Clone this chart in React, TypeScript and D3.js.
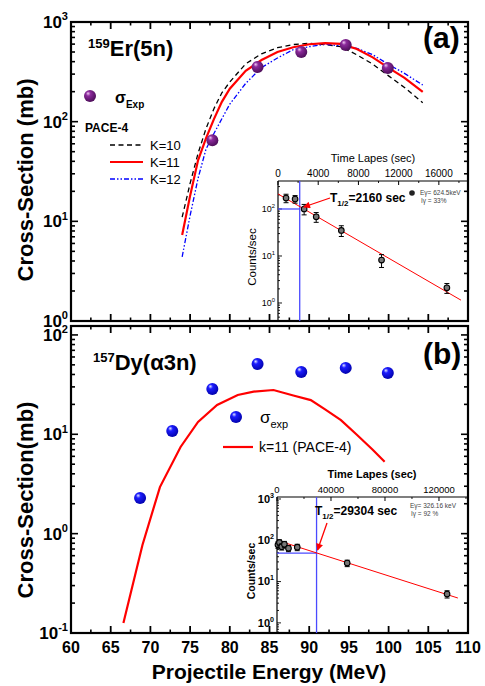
import React, { useEffect, useRef } from "react";
import * as d3 from "d3";

// x axis (projectile energy, MeV)
const energyTicks = [60, 65, 70, 75, 80, 85, 90, 95, 100, 105, 110];

// panel (a) 159Er(5n)
const expEnergyA = [77.8, 83.5, 89.0, 94.6, 99.9];
const expSigmaA = [65, 354, 500, 588, 346];
const paceEnergyA = [74, 75, 76, 77, 78, 79, 80, 82, 84, 86, 88, 90, 92, 94, 96, 98, 100, 102, 104.3];
const paceK10 = [11, 24, 48, 85, 135, 195, 250, 380, 480, 552, 594, 611, 594, 565, 469, 378, 288, 220, 155];
const paceK11 = [7.3, 18, 41, 68, 106, 158, 214, 324, 415, 500, 558, 598, 615, 603, 537, 442, 347, 275, 199];
const paceK12 = [4.4, 11.4, 27, 53, 76, 107, 150, 242, 349, 435, 529, 565, 598, 575, 545, 470, 375, 305, 233];

// panel (b) 157Dy(a3n)
const expEnergyB = [68.7, 72.75, 77.8, 83.5, 89.0, 94.6, 99.9];
const expSigmaB = [2.28, 10.8, 28.6, 51, 42.4, 46.6, 41.4];
const paceEnergyB = [66.6, 69, 71.2, 73.8, 76, 78.4, 81, 83, 85.5, 88, 90.2, 92, 94, 96, 98, 99.5];
const paceSigmaB = [0.126, 0.77, 2.94, 7.45, 13.3, 19.7, 24.9, 26.9, 27.9, 24.6, 22.1, 17.8, 13.9, 9.9, 7.0, 5.3];

// inset (a) decay curve
const timeA = [800, 1700, 2600, 3800, 6300, 10300, 16800];
const countsA = [171, 163, 100, 68, 35, 8.2, 2.1];
const countsErrA = [35, 30, 25, 16, 9, 2.5, 0.5];
const fitTimeA = [0, 18200];
const fitCountsA = [209, 1.15];
const halfLifeA = 2160;
const halfCountsA = 100;
const timeTicksA = [0, 4000, 8000, 12000, 16000];

// inset (b) decay curve
const timeB = [700, 1800, 3500, 5500, 8500, 15000, 52000, 126000];
const countsB = [78, 88, 70, 80, 64, 68, 28, 5.0];
const countsErrB = [14, 15, 12, 14, 11, 12, 5, 1];
const fitTimeB = [0, 134000];
const fitCountsB = [100, 4.0];
const halfLifeB = 29304;
const halfCountsB = 49;
const timeTicksB = [0, 40000, 80000, 120000];

const FONT = "Arial, 'Liberation Sans', Helvetica, sans-serif";

function isDecade(v: number) {
  const l = Math.log10(v);
  return Math.abs(l - Math.round(l)) < 1e-6;
}

function powLabel(g: any, x: number, y: number, exp: string, size: number, weight: string) {
  const t = g.append("text").attr("x", x).attr("y", y).attr("text-anchor", "end")
    .attr("font-size", size).attr("font-weight", weight);
  t.append("tspan").text("10");
  t.append("tspan").attr("dy", -size * 0.45).attr("font-size", size * 0.65).text(exp);
}

function logTicks(g: any, y: any, x0: number, dir: number, major: number, minor: number, sw: number) {
  g.append("g").selectAll("line").data(y.ticks()).join("line")
    .attr("x1", x0).attr("x2", (d: number) => x0 + dir * (isDecade(d) ? major : minor))
    .attr("y1", (d: number) => y(d)).attr("y2", (d: number) => y(d))
    .attr("stroke", "#000").attr("stroke-width", sw);
}

function linTicks(g: any, x: any, vals: number[], y0: number, dir: number, len: number, sw: number) {
  g.append("g").selectAll("line").data(vals).join("line")
    .attr("x1", (d: number) => x(d)).attr("x2", (d: number) => x(d))
    .attr("y1", y0).attr("y2", y0 + dir * len)
    .attr("stroke", "#000").attr("stroke-width", sw);
}

export default function App() {
  const ref = useRef<SVGSVGElement>(null);

  useEffect(() => {
    const svg = d3.select(ref.current);
    svg.selectAll("*").remove();
    svg.attr("font-family", FONT);

    const defs = svg.append("defs");
    const grad = (id: string, hi: string, base: string, dark: string) => {
      const r = defs.append("radialGradient").attr("id", id)
        .attr("cx", "0.42").attr("cy", "0.38").attr("r", "0.65").attr("fx", "0.33").attr("fy", "0.28");
      r.append("stop").attr("offset", "0").attr("stop-color", hi);
      r.append("stop").attr("offset", "0.3").attr("stop-color", base);
      r.append("stop").attr("offset", "1").attr("stop-color", dark);
    };
    grad("purpleBall", "#f0c8f4", "#8c2a9c", "#4a0c56");
    grad("blueBall", "#dfe4ff", "#1c1cff", "#0000a8");
    defs.append("marker").attr("id", "redArrow").attr("viewBox", "0 0 10 10")
      .attr("refX", 9).attr("refY", 5).attr("markerWidth", 9).attr("markerHeight", 7)
      .attr("markerUnits", "userSpaceOnUse").attr("orient", "auto")
      .append("path").attr("d", "M0,0 L10,5 L0,10 z").attr("fill", "#ff0000");

    const x = d3.scaleLinear().domain([60, 110]).range([71, 468]);
    const yA = d3.scaleLog().domain([1, 1000]).range([321, 22]);
    const yB = d3.scaleLog().domain([0.1, 123]).range([633, 326]);
    const minorE = d3.range(60, 110.01, 2.5);

    // ---------- panel frames & axes ----------
    const drawFrame = (y: any, top: number, bottom: number, exps: number[], labelBottom: boolean) => {
      const g = svg.append("g");
      logTicks(g, y, 71, 1, 7, 4, 1.6);
      logTicks(g, y, 468, -1, 7, 4, 1.6);
      linTicks(g, x, minorE.filter((d) => d % 5 !== 0), bottom, -1, 3.5, 1.6);
      linTicks(g, x, energyTicks, bottom, -1, 7, 1.8);
      linTicks(g, x, minorE.filter((d) => d % 5 !== 0), top, 1, 3.5, 1.6);
      linTicks(g, x, energyTicks, top, 1, 7, 1.8);
      g.append("rect").attr("x", 71).attr("y", top).attr("width", 397).attr("height", bottom - top)
        .attr("fill", "none").attr("stroke", "#000").attr("stroke-width", 2.2);
      exps.forEach((e) => powLabel(g, 68, y(Math.pow(10, e)) + 6, String(e), 17, "bold"));
      if (labelBottom) {
        g.append("g").selectAll("text").data(energyTicks).join("text")
          .attr("x", (d) => x(d)).attr("y", bottom + 20).attr("text-anchor", "middle")
          .attr("font-size", 16).attr("font-weight", "bold").text((d) => d);
      }
    };
    drawFrame(yA, 22, 321, [0, 1, 2, 3], false);
    drawFrame(yB, 326, 633, [-1, 0, 1, 2], true);

    // axis titles
    svg.append("text").attr("transform", "translate(33,180) rotate(-90)").attr("text-anchor", "middle")
      .attr("font-size", 22).attr("font-weight", "bold").text("Cross-Section (mb)");
    svg.append("text").attr("transform", "translate(33,500) rotate(-90)").attr("text-anchor", "middle")
      .attr("font-size", 22).attr("font-weight", "bold").text("Cross-Section(mb)");
    svg.append("text").attr("x", 269).attr("y", 679).attr("text-anchor", "middle")
      .attr("font-size", 21).attr("font-weight", "bold").text("Projectile Energy (MeV)");

    // ---------- panel (a) ----------
    const lineA = d3.line<number>().x((d, i) => x(paceEnergyA[i])).y((d) => yA(d));
    svg.append("path").attr("d", lineA(paceK10)).attr("fill", "none").attr("stroke", "#000")
      .attr("stroke-width", 1.3).attr("stroke-dasharray", "5,3.5");
    svg.append("path").attr("d", lineA(paceK12)).attr("fill", "none").attr("stroke", "#0000ff")
      .attr("stroke-width", 1.3).attr("stroke-dasharray", "5,2,1.5,2,1.5,2");
    svg.append("path").attr("d", lineA(paceK11)).attr("fill", "none").attr("stroke", "#ff0000")
      .attr("stroke-width", 2.2);
    svg.append("g").selectAll("circle").data(expSigmaA).join("circle")
      .attr("cx", (d, i) => x(expEnergyA[i])).attr("cy", (d) => yA(d)).attr("r", 6)
      .attr("fill", "url(#purpleBall)");

    svg.append("text").attr("x", 88).attr("y", 56).attr("font-weight", "bold").call((t) => {
      t.append("tspan").attr("font-size", 13).attr("dy", -8).text("159");
      t.append("tspan").attr("font-size", 22).attr("dy", 8).text("Er(5n)");
    });
    svg.append("text").attr("x", 423).attr("y", 48).attr("font-size", 30).attr("font-weight", "bold").text("(a)");

    // legend (a)
    svg.append("circle").attr("cx", 90).attr("cy", 96).attr("r", 6).attr("fill", "url(#purpleBall)");
    svg.append("text").attr("x", 115).attr("y", 103).attr("font-weight", "bold").call((t) => {
      t.append("tspan").attr("font-size", 16).text("σ");
      t.append("tspan").attr("font-size", 10).attr("dy", 5).text("Exp");
    });
    svg.append("text").attr("x", 85).attr("y", 132).attr("font-size", 12).attr("font-weight", "bold").text("PACE-4");
    const legA = [
      { label: "K=10", color: "#000", dash: "5,3.5", w: 1.3, y: 145 },
      { label: "K=11", color: "#ff0000", dash: null, w: 2.2, y: 162 },
      { label: "K=12", color: "#0000ff", dash: "5,2,1.5,2,1.5,2", w: 1.3, y: 179 },
    ];
    legA.forEach((l) => {
      svg.append("line").attr("x1", 110).attr("x2", 143).attr("y1", l.y).attr("y2", l.y)
        .attr("stroke", l.color).attr("stroke-width", l.w).attr("stroke-dasharray", l.dash);
      svg.append("text").attr("x", 150).attr("y", l.y + 5).attr("font-size", 13).text(l.label);
    });

    // ---------- panel (b) ----------
    const lineB = d3.line<number>().x((d, i) => x(paceEnergyB[i])).y((d) => yB(d));
    svg.append("path").attr("d", lineB(paceSigmaB)).attr("fill", "none").attr("stroke", "#ff0000")
      .attr("stroke-width", 2.2);
    svg.append("g").selectAll("circle").data(expSigmaB).join("circle")
      .attr("cx", (d, i) => x(expEnergyB[i])).attr("cy", (d) => yB(d)).attr("r", 6)
      .attr("fill", "url(#blueBall)");

    svg.append("text").attr("x", 93).attr("y", 370).attr("font-weight", "bold").call((t) => {
      t.append("tspan").attr("font-size", 13).attr("dy", -8).text("157");
      t.append("tspan").attr("font-size", 22).attr("dy", 8).text("Dy(α3n)");
    });
    svg.append("text").attr("x", 423).attr("y", 364).attr("font-size", 30).attr("font-weight", "bold").text("(b)");

    // legend (b)
    svg.append("circle").attr("cx", 236).attr("cy", 417).attr("r", 6).attr("fill", "url(#blueBall)");
    svg.append("text").attr("x", 260).attr("y", 423).call((t) => {
      t.append("tspan").attr("font-size", 17).text("σ");
      t.append("tspan").attr("font-size", 11).attr("dy", 5).text("exp");
    });
    svg.append("line").attr("x1", 223).attr("x2", 253).attr("y1", 447).attr("y2", 447)
      .attr("stroke", "#ff0000").attr("stroke-width", 2.2);
    svg.append("text").attr("x", 259).attr("y", 452).attr("font-size", 14).text("k=11 (PACE-4)");

    // ---------- insets ----------
    const drawInset = (o: any) => {
      const g = svg.append("g");
      const xs = d3.scaleLinear().domain(o.xDomain).range([o.left, 468]);
      const ys = d3.scaleLog().domain(o.yDomain).range([o.bottom, o.top]);
      // frame
      g.append("line").attr("x1", o.left).attr("x2", o.left).attr("y1", o.top).attr("y2", o.bottom)
        .attr("stroke", "#000").attr("stroke-width", 1.2);
      g.append("line").attr("x1", o.left).attr("x2", 468).attr("y1", o.top).attr("y2", o.top)
        .attr("stroke", "#000").attr("stroke-width", 1.2);
      logTicks(g, ys, o.left, 1, 4, 2, 0.9);
      linTicks(g, xs, o.xTicks, o.top, 1, 4, 1);
      linTicks(g, xs, o.xMinor, o.top, 1, 2, 0.9);
      g.append("g").selectAll("text").data(o.xTicks).join("text")
        .attr("x", (d: number) => xs(d)).attr("y", o.top - 4).attr("text-anchor", "middle")
        .attr("font-size", o.tickSize).text((d: number) => d);
      o.exps.forEach((e: number) =>
        powLabel(g, o.left - 3, ys(Math.pow(10, e)) + o.ySize * 0.35, String(e), o.ySize, o.yWeight));
      g.append("text").attr("x", o.titleX).attr("y", o.top - 19).attr("text-anchor", "middle")
        .attr("font-size", 11).attr("font-weight", o.yWeight).text("Time Lapes (sec)");
      g.append("text").attr("transform", `translate(${o.left - 22},${(o.top + o.bottom) / 2 + 6}) rotate(-90)`)
        .attr("text-anchor", "middle").attr("font-size", o.cSize).attr("font-weight", o.yWeight)
        .text("Counts/sec");
      // half-life guides
      g.append("line").attr("x1", xs(o.half)).attr("x2", xs(o.half)).attr("y1", o.top).attr("y2", o.bottom)
        .attr("stroke", "#4a4aff").attr("stroke-width", 1.3);
      g.append("line").attr("x1", o.left).attr("x2", xs(o.half)).attr("y1", ys(o.halfCounts)).attr("y2", ys(o.halfCounts))
        .attr("stroke", "#4a4aff").attr("stroke-width", 1.3);
      // fit
      g.append("line").attr("x1", xs(o.fitT[0])).attr("x2", xs(o.fitT[1]))
        .attr("y1", ys(o.fitC[0])).attr("y2", ys(o.fitC[1])).attr("stroke", "#ff0000").attr("stroke-width", 1);
      // data with error bars
      const pts = g.append("g").selectAll("g").data(o.c).join("g");
      pts.append("line").attr("x1", (d: number, i: number) => xs(o.t[i])).attr("x2", (d: number, i: number) => xs(o.t[i]))
        .attr("y1", (d: number, i: number) => ys(d + o.e[i])).attr("y2", (d: number, i: number) => ys(Math.max(d - o.e[i], 0.01)))
        .attr("stroke", "#000").attr("stroke-width", 1);
      [1, -1].forEach((s) =>
        pts.append("line").attr("x1", (d: number, i: number) => xs(o.t[i]) - 2.5).attr("x2", (d: number, i: number) => xs(o.t[i]) + 2.5)
          .attr("y1", (d: number, i: number) => ys(d + s * o.e[i])).attr("y2", (d: number, i: number) => ys(d + s * o.e[i]))
          .attr("stroke", "#000").attr("stroke-width", 1));
      pts.append("circle").attr("cx", (d: number, i: number) => xs(o.t[i])).attr("cy", (d: number) => ys(d)).attr("r", 2.8)
        .attr("fill", "#777").attr("stroke", "#000").attr("stroke-width", 1.1);
      // annotation
      g.append("text").attr("x", o.tx).attr("y", o.ty).attr("font-size", 12).attr("font-weight", "bold").call((t: any) => {
        t.append("tspan").text("T");
        t.append("tspan").attr("font-size", 8).attr("dy", 4).text("1/2");
        t.append("tspan").attr("dy", -4).text(`=${o.half} sec`);
      });
      g.append("line").attr("x1", o.arrowFrom[0]).attr("y1", o.arrowFrom[1])
        .attr("x2", xs(o.half) + o.arrowTip[0]).attr("y2", ys(o.halfCounts) + o.arrowTip[1])
        .attr("stroke", "#ff0000").attr("stroke-width", 1.3).attr("marker-end", "url(#redArrow)");
      const leg = g.append("g").attr("fill", "#444").attr("font-size", 6.5);
      if (o.legDot) leg.append("circle").attr("cx", o.legX - 8).attr("cy", o.legY - 2).attr("r", 2.8).attr("fill", "#222");
      leg.append("text").attr("x", o.legX).attr("y", o.legY).text(o.leg1);
      leg.append("text").attr("x", o.legX + 1).attr("y", o.legY + 8).text(o.leg2);
    };

    drawInset({
      left: 278, top: 181, bottom: 321, xDomain: [0, 18900], yDomain: [0.414, 394],
      xTicks: timeTicksA, xMinor: d3.range(2000, 18900, 4000), tickSize: 10, exps: [0, 1, 2],
      ySize: 9, yWeight: "normal", cSize: 11.5, titleX: 373,
      t: timeA, c: countsA, e: countsErrA, fitT: fitTimeA, fitC: fitCountsA,
      half: halfLifeA, halfCounts: halfCountsA, tx: 330, ty: 202,
      arrowFrom: [330, 198], arrowTip: [4, -2],
      legDot: true, legX: 420, legY: 195, leg1: "Eγ= 624.5keV", leg2: "Iγ = 33%",
    });
    drawInset({
      left: 277, top: 497, bottom: 633, xDomain: [0, 141500], yDomain: [0.569, 1117],
      xTicks: timeTicksB, xMinor: d3.range(20000, 141500, 40000), tickSize: 9.5, exps: [0, 1, 2, 3],
      ySize: 11, yWeight: "bold", cSize: 10.5, titleX: 372,
      t: timeB, c: countsB, e: countsErrB, fitT: fitTimeB, fitC: fitCountsB,
      half: halfLifeB, halfCounts: halfCountsB, tx: 315, ty: 515,
      arrowFrom: [327, 523], arrowTip: [1, -3],
      legDot: false, legX: 410, legY: 508, leg1: "Eγ= 326.16 keV", leg2: "Iγ = 92 %",
    });
  }, []);

  return (
    <svg ref={ref} width={485} height={686}
      style={{ position: "absolute", left: 0, top: 0, background: "#fff" }} />
  );
}
